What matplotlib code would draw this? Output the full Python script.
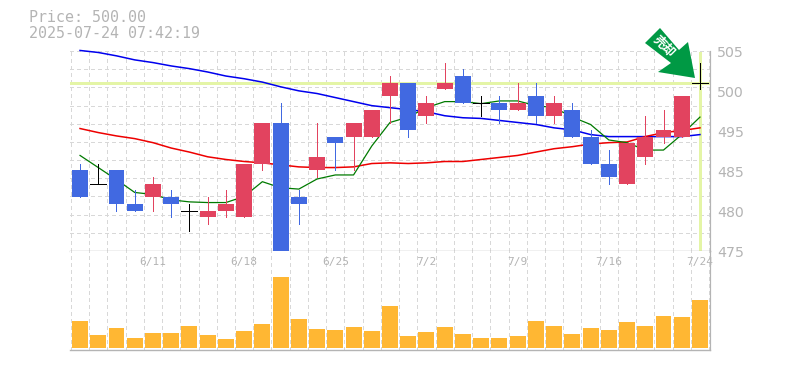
import matplotlib
matplotlib.use("Agg")
import matplotlib.pyplot as plt
from matplotlib.patches import Polygon
from matplotlib.transforms import IdentityTransform
import numpy as np

# ohlc, yen
opens = [487, 485, 487, 482, 483, 483, 481, 480, 481, 480, 488, 494, 483, 487, 492, 492, 492, 498,
         500, 495, 499, 501, 497, 497, 496, 498, 495, 496, 492, 488, 485, 489, 492, 492, 500]
closes = [483, 485, 482, 481, 485, 482, 481, 481, 482, 488, 494, 475, 482, 489, 491, 494, 496, 500,
          493, 497, 500, 497, 497, 496, 497, 495, 497, 492, 488, 486, 491, 492, 493, 498, 500]
highs = [488, 488, 487, 484, 486, 484, 482, 483, 484, 488, 494, 497, 484, 494, 492, 494, 496, 501,
         500, 498, 503, 502, 498, 498, 500, 500, 498, 497, 493, 490, 491, 495, 496, 498, 503]
lows = [483, 485, 481, 481, 481, 480, 478, 479, 480, 480, 487, 475, 479, 486, 487, 487, 492, 494,
        492, 494, 499, 497, 495, 494, 496, 494, 494, 492, 488, 485, 485, 488, 491, 492, 499]

ma_short = [489.2, 487.4, 485.6, 483.7, 483.4, 482.6, 482.3, 482.2, 482.2, 483.1, 485.3, 484.4,
            484.2, 485.7, 486.3, 486.3, 490.6, 494.1, 494.9, 496.3, 497.2, 497.2, 496.9, 497.3,
            497.3, 496.6, 496.3, 494.9, 493.8, 491.5, 491.1, 490.0, 490.0, 492.3, 494.9]
ma_mid = [493.2, 492.6, 492.1, 491.7, 491.1, 490.3, 489.7, 489.0, 488.6, 488.3, 488.1, 487.8,
          487.5, 487.4, 487.4, 487.5, 488.0, 488.1, 488.0, 488.1, 488.3, 488.3, 488.6, 488.9,
          489.2, 489.7, 490.2, 490.5, 490.9, 491.1, 491.2, 492.0, 492.6, 492.9, 493.3]
ma_long = [504.8, 504.5, 504.0, 503.4, 503.0, 502.5, 502.1, 501.6, 501.0, 500.6, 500.1, 499.4,
           498.8, 498.4, 497.8, 497.2, 496.6, 496.3, 496.0, 495.7, 495.1, 494.8, 494.7, 494.4,
           494.1, 493.8, 493.3, 493.0, 492.3, 492.0, 492.0, 492.0, 492.0, 492.0, 492.3]

volume = [27, 13, 20, 10, 15, 15, 22, 13, 9, 17, 24, 71, 29, 19, 18, 21, 17, 42,
          12, 16, 21, 14, 10, 10, 12, 27, 22, 14, 20, 18, 26, 22, 32, 31, 48]

date_idx = [4, 9, 14, 19, 24, 29, 34]
date_labels = ["6/11", "6/18", "6/25", "7/2", "7/9", "7/16", "7/24"]

# the labels on the right do not sit on their real prices in the original
price_label_pos = [504.46, 498.51, 492.57, 486.63, 480.68, 474.74]
price_labels = ["505", "500", "495", "485", "480", "475"]

current_price = 500
title_lines = ["Price: 500.00", "2025-07-24 07:42:19"]

W, H = 785, 370
RED = "#e2435f"
BLUE = "#4169e1"
GRID = "#d8d8d8"
TXT = "#b4b4b4"
YEL = "#e4f5a6"
px = 0.72


def main():
    fig = plt.figure(figsize=(W / 100, H / 100), dpi=100)
    ax = fig.add_axes([70 / W, 1 - 251 / H, 640 / W, 200 / H])
    vax = fig.add_axes([70 / W, 1 - 350 / H, 640 / W, 99 / H])

    x = np.arange(len(opens))
    edges = np.arange(len(opens) + 1) - 0.5

    for a in (ax, vax):
        a.set_xlim(-0.55, 34.55)
        a.set_xticks(edges)
        a.tick_params(length=0, labelbottom=False, labelleft=False)
        a.grid(axis="x", color=GRID, lw=px, ls=(0, (3, 3)), zorder=0, antialiased=False)
        a.set_axisbelow(True)
        for s in a.spines.values():
            s.set_visible(False)
        a.spines["right"].set_visible(True)
        a.spines["bottom"].set_visible(True)
        a.spines["right"].set_color(TXT)
        a.spines["bottom"].set_color(TXT)
        a.spines["right"].set_linewidth(px * 1.2)
        a.spines["bottom"].set_linewidth(px * 1.4)

    ax.set_ylim(475, 504.72)
    ax.set_yticks(np.linspace(475, 504.72, 12))
    ax.grid(axis="y", color=GRID, lw=px, ls=(0, (3, 3)), zorder=0, antialiased=False)
    for g in ax.get_xgridlines() + ax.get_ygridlines():
        g.set_clip_on(False)

    ax.axhline(current_price, color=YEL, lw=3 * px, zorder=1)
    ax.axvline(x[-1], ymax=0.99, color=YEL, lw=3 * px, zorder=1)

    # 1.3 lw keeps the aliased moving averages about 1.5 px thick like the original
    ax.plot(x, ma_long, color="#0000ee", lw=1.1, zorder=2, clip_on=False)
    ax.plot(x, ma_mid, color="#ee0000", lw=1.1, zorder=2)
    ax.plot(x, ma_short, color="#007a00", lw=0.9, zorder=2)

    for i in x:
        o, c = opens[i], closes[i]
        col = "black" if o == c else (RED if c > o else BLUE)
        ax.vlines(i, lows[i], highs[i], color=col, lw=px, zorder=3, antialiased=False)
        if o == c:
            ax.hlines(o, i - 0.44, i + 0.44, color="black", lw=px, zorder=3, antialiased=False)
        else:
            ax.bar(i, abs(c - o), bottom=min(o, c), width=0.875, color=col, lw=0, zorder=3)

    vax.set_ylim(-2, 97)
    vax.bar(x, volume, width=0.875, color="#ffb733", lw=0, zorder=2)

    mono = ["DejaVu Sans Mono"]
    for i, lab in zip(date_idx, date_labels):
        vax.text(i, 0.888, lab, transform=vax.get_xaxis_transform(), ha="center", va="center",
                 fontsize=8, family=mono, color=TXT)
    for p, lab in zip(price_label_pos, price_labels):
        ax.text(1.0106, p, lab, transform=ax.get_yaxis_transform(), ha="left", va="center",
                fontsize=10.2, color=TXT, clip_on=False)

    fig.text(29 / W, 1 - 18 / H, title_lines[0], ha="left", va="center", fontsize=10.8,
             family=mono, color=TXT)
    fig.text(29 / W, 1 - 33 / H, title_lines[1], ha="left", va="center", fontsize=10.8,
             family=mono, color=TXT)

    # sell arrow, pixel positions
    arrow = [(660, 28), (645, 43), (671, 63), (658, 72), (695, 78), (688, 42), (679, 50)]
    fig.add_artist(Polygon([(a, H - b) for a, b in arrow], closed=True, color="#009944", lw=0,
                           transform=IdentityTransform(), zorder=5))
    fig.text(664 / W, 1 - 47 / H, "売却", rotation=-45, rotation_mode="anchor", ha="center", va="center",
             fontsize=9, weight="bold", color="white", family=["Noto Sans CJK JP", "DejaVu Sans"], zorder=6)

    fig.savefig("out.png", dpi=100)


if __name__ == "__main__":
    main()
